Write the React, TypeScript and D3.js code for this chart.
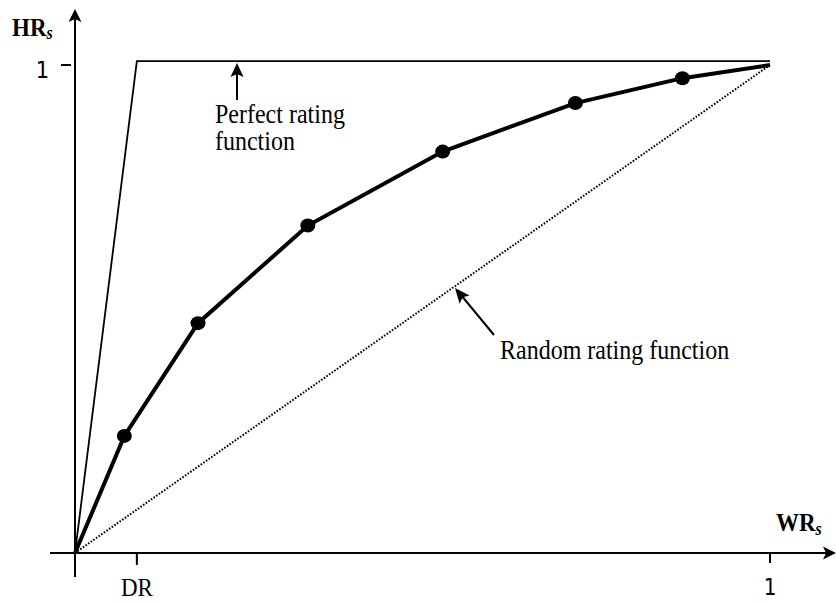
import * as d3 from "d3";

// ROC-style curve
const curveWR = [0, 0.071, 0.177, 0.335, 0.529, 0.72, 0.874, 1];
const curveHR = [0, 0.24, 0.471, 0.671, 0.8225, 0.922, 0.973, 1];
const markerIdx = [1, 2, 3, 4, 5, 6];

const DR = 0.089;
const perfectWR = [0, DR, 1];
const perfectHR = [0, 1.008, 1.008];
const randomWR = [0, 1];
const randomHR = [0, 1];

const width = 836;
const height = 602;
const serif = "'Liberation Serif', 'Times New Roman', serif";
const sans = "'DejaVu Sans', Verdana, sans-serif";

const x = d3.scaleLinear([0, 1], [75, 770]);
const y = d3.scaleLinear([0, 1], [553, 65]);

function head(tx: number, ty: number, angle: number, len = 13, half = 6.5, notch = 3) {
  // angle: direction the arrow points, in radians
  const c = Math.cos(angle);
  const s = Math.sin(angle);
  const bx = tx - c * len;
  const by = ty - s * len;
  const p = d3.path();
  p.moveTo(tx, ty);
  p.lineTo(bx - s * half, by + c * half);
  p.lineTo(tx - c * (len - notch), ty - s * (len - notch));
  p.lineTo(bx + s * half, by - c * half);
  p.closePath();
  return p.toString();
}

// text in the source is a little taller than wide
const Label = ({ x, y, anchor = "start", size = 23, family = serif, children, ...rest }: any) => (
  <g transform={`translate(${x},${y}) scale(1,1.12)`}>
    <text fontFamily={family} fontSize={size} textAnchor={anchor} {...rest}>
      {children}
    </text>
  </g>
);

export default function App() {
  const line = d3
    .line<number>()
    .x((d) => x(d[0]))
    .y((d) => y(d[1]));

  const curve = curveWR.map((w, i) => [w, curveHR[i]]);
  const perfect = perfectWR.map((w, i) => [w, perfectHR[i]]);
  const random = randomWR.map((w, i) => [w, randomHR[i]]);

  const x0 = x(0);
  const y0 = y(0);

  return (
    <svg
      width={width}
      height={height}
      style={{ position: "absolute", left: 0, top: 0, background: "#fff" }}
    >
      {/* axes */}
      <line x1={50} x2={832} y1={y0} y2={y0} stroke="#000" strokeWidth={2} />
      <line x1={x0} x2={x0} y1={12} y2={577} stroke="#000" strokeWidth={2} />
      <path d={head(x0, 9, -Math.PI / 2)} fill="#000" />
      <path d={head(836, y0, 0)} fill="#000" />

      {/* ticks */}
      <line x1={61} x2={71} y1={y(1)} y2={y(1)} stroke="#000" strokeWidth={2} />
      <line x1={x(DR)} x2={x(DR)} y1={y0} y2={y0 + 12} stroke="#000" strokeWidth={2} />
      <line x1={x(1)} x2={x(1)} y1={y0} y2={y0 + 10} stroke="#000" strokeWidth={2} />

      <Label x={49} y={78} family={sans} size={21} anchor="end">1</Label>
      <Label x={x(1)} y={595} family={sans} size={20} anchor="middle">1</Label>
      <Label x={x(DR)} y={596} size={23} anchor="middle">DR</Label>

      <Label x={12} y={36} size={23} fontWeight="bold">
        HR
        <tspan fontSize={16} fontStyle="italic" dy={3}>s</tspan>
      </Label>
      <Label x={776} y={531} size={23} fontWeight="bold">
        WR
        <tspan fontSize={16} fontStyle="italic" dy={4}>s</tspan>
      </Label>

      {/* reference lines */}
      <path d={line(perfect as any) || ""} fill="none" stroke="#000" strokeWidth={1.8} />
      <path
        d={line(random as any) || ""}
        fill="none"
        stroke="#000"
        strokeWidth={2}
        strokeDasharray="1.6 1.6"
      />

      {/* rating curve */}
      <path d={line(curve as any) || ""} fill="none" stroke="#000" strokeWidth={4} />
      {markerIdx.map((i) => (
        <ellipse key={i} cx={x(curveWR[i])} cy={y(curveHR[i])} rx={7.5} ry={7} fill="#000" />
      ))}

      {/* annotations */}
      <line x1={237} x2={237} y1={100} y2={72} stroke="#000" strokeWidth={2} />
      <path d={head(237, 63, -Math.PI / 2, 14, 6.5, 3)} fill="#000" />
      <Label x={215} y={123} size={24}>
        <tspan x={0} y={0}>Perfect rating</tspan>
        <tspan x={0} y={24}>function</tspan>
      </Label>

      <line x1={494} x2={461} y1={335} y2={295} stroke="#000" strokeWidth={2} />
      <path
        d={head(455, 288, Math.atan2(288 - 335, 455 - 494), 15, 6.5, 3)}
        fill="#000"
      />
      <Label x={500} y={359} size={24}>Random rating function</Label>
    </svg>
  );
}
